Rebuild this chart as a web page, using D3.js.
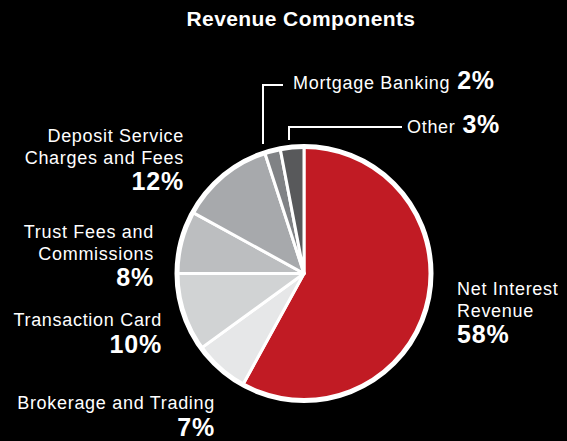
<!DOCTYPE html>
<html><head><meta charset="utf-8">
<script src="https://cdn.jsdelivr.net/npm/d3@7"></script>
<style>html,body{margin:0;background:#000;} svg{display:block}</style>
</head><body><svg id="chart" width="567" height="441"></svg>
<script>
// Revenue mix, in percent of total revenue, clockwise from 12 o'clock
const categories = ["Net Interest Revenue", "Brokerage and Trading", "Transaction Card",
  "Trust Fees and Commissions", "Deposit Service Charges and Fees", "Mortgage Banking", "Other"];
const shares = [58, 7, 10, 8, 12, 2, 3];
const sliceColors = ["#c11b24", "#e6e7e8", "#d1d3d4", "#bcbec0", "#a7a9ac", "#808285", "#58595b"];
const chartTitle = "Revenue Components";

// Where each label sits and how it wraps
const labelLayout = [
  { lines: ["Net Interest", "Revenue"], x: 457, y: 295, anchor: "start" },
  { lines: ["Brokerage and Trading"], x: 215, y: 409, anchor: "end" },
  { lines: ["Transaction Card"], x: 162, y: 326, anchor: "end" },
  { lines: ["Trust Fees and", "Commissions"], x: 154, y: 238, anchor: "end" },
  { lines: ["Deposit Service", "Charges and Fees"], x: 184, y: 142, anchor: "end" },
  { lines: ["Mortgage Banking"], x: 293, y: 89, anchor: "start", inline: true,
    leader: [[263, 144], [263, 85], [283, 85]] },
  { lines: ["Other"], x: 407, y: 133, anchor: "start", inline: true,
    leader: [[289, 140], [289, 127], [402, 127]] }
];

const svg = d3.select("#chart");
const cx = 304, cy = 273.5, radius = 127;

svg.append("rect").attr("width", 567).attr("height", 441).attr("fill", "#000");

svg.append("text")
  .attr("x", 301).attr("y", 26)
  .attr("text-anchor", "middle")
  .attr("fill", "#fff")
  .style("font", "bold 21px 'Liberation Sans', Arial, sans-serif")
  .style("letter-spacing", "0.4px")
  .text(chartTitle);

const pie = d3.pie().sort(null).value(d => d);
const arc = d3.arc().innerRadius(0).outerRadius(radius);
const g = svg.append("g").attr("transform", `translate(${cx},${cy})`);

g.selectAll("path.slice")
  .data(pie(shares))
  .join("path")
  .attr("class", "slice")
  .attr("d", arc)
  .attr("fill", (d, i) => sliceColors[i])
  .attr("stroke", "#fff")
  .attr("stroke-width", 3)
  .attr("stroke-linejoin", "round");

g.append("circle")
  .attr("r", radius)
  .attr("fill", "none")
  .attr("stroke", "#fff")
  .attr("stroke-width", 5);

// Leader lines for the thin slices
const line = d3.line();
labelLayout.forEach(l => {
  if (l.leader) {
    svg.append("path")
      .attr("d", line(l.leader))
      .attr("fill", "none")
      .attr("stroke", "#fff")
      .attr("stroke-width", 2);
  }
});

const labelFont = "18px 'Liberation Sans', Arial, sans-serif";
const pctFont = "bold 25px 'Liberation Sans', Arial, sans-serif";

categories.forEach((name, i) => {
  const l = labelLayout[i];
  const t = svg.append("text")
    .attr("x", l.x).attr("y", l.y)
    .attr("text-anchor", l.anchor)
    .attr("fill", "#fff")
    .style("font", labelFont)
    .style("letter-spacing", "0.7px");
  if (l.inline) {
    t.append("tspan").text(l.lines[0]);
    t.append("tspan")
      .attr("dx", 7)
      .style("font", pctFont)
      .style("letter-spacing", "0.6px")
      .text(shares[i] + "%");
  } else {
    l.lines.forEach((ln, k) => {
      t.append("tspan").attr("x", l.x).attr("y", l.y + k * 21.5).text(ln);
    });
    t.append("tspan")
      .attr("x", l.x)
      .attr("y", l.y + (l.lines.length - 1) * 21.5 + 26.5)
      .style("font", pctFont)
      .style("letter-spacing", "0.8px")
      .text(shares[i] + "%");
  }
});
</script>
</body></html>
